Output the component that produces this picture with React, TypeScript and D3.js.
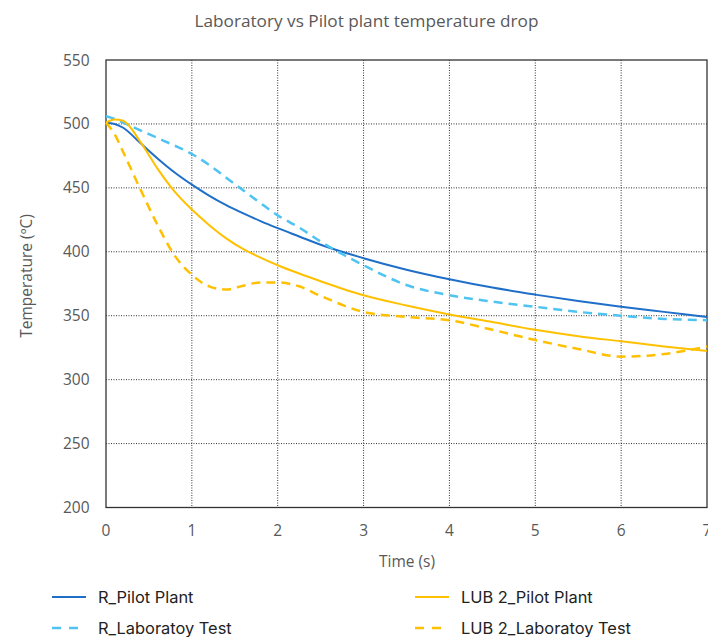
import React from "react";
import * as d3 from "d3";

const time = [0, 0.1, 0.2, 0.4, 0.6, 0.8, 1, 1.2, 1.4, 1.6, 1.8, 2, 2.25, 2.5, 3, 3.5, 4, 4.5, 5, 5.5, 6, 6.5, 7];
const rPilot = [501, 500, 497, 485, 473, 462, 452.5, 444, 436.5, 430, 424, 418.5, 412, 405.5, 395, 386, 378.5, 372, 366.5, 361.5, 357, 353, 349];
const rLab = [506, 504, 501, 495, 489, 483, 476.5, 468, 458, 448, 438, 428.5, 419, 408, 389.5, 374, 366, 361, 357, 353, 350, 347.5, 346.5];
const lubPilot = [501, 503.5, 502.5, 486, 465, 447, 433, 421, 410.5, 402, 395.5, 389.5, 383, 377, 366, 358, 351, 345, 339, 334, 330, 326, 322.5];
const lubLab = [501, 492, 478, 449, 421, 397, 382, 373, 370.5, 373.5, 376, 376, 373, 365.5, 353, 349, 346.5, 339, 331, 324, 318, 320, 326];

const xTicks = [0, 1, 2, 3, 4, 5, 6, 7];
const yTicks = [200, 250, 300, 350, 400, 450, 500, 550];

const seriesNames = ["R_Pilot Plant", "R_Laboratoy Test", "LUB 2_Pilot Plant", "LUB 2_Laboratoy Test"];
const seriesData = [rPilot, rLab, lubPilot, lubLab];
const seriesColors = ["#1F6FC9", "#4FC3F2", "#FFC000", "#FFC000"];
const seriesDashed = [false, true, false, true];

export default function App() {
  const W = 708, H = 637;
  const left = 106, right = 707, top = 60, bottom = 507.5;
  const x = d3.scaleLinear().domain([0, 7]).range([left, right]);
  const y = d3.scaleLinear().domain([200, 550]).range([bottom, top]);
  const line = (vals: number[]) =>
    d3.line<number>()
      .x((_, i) => x(time[i]))
      .y((v) => y(v))
      .curve(d3.curveMonotoneX)(vals) || "";

  const tickFont = "'Open Sans', 'Noto Sans', sans-serif";
  const grey = "#595959";

  const legendPos = [
    { lx: 52, ly: 597 },
    { lx: 52, ly: 628 },
    { lx: 415, ly: 597 },
    { lx: 415, ly: 628 },
  ];

  return (
    <svg width={W} height={H} style={{ position: "absolute", left: 0, top: 0, background: "#fff" }}>
      <rect x={0} y={0} width={W} height={H} fill="#fff" />
      <text x={366.5} y={27} textAnchor="middle" fontFamily={tickFont} fontSize={17.2} fill={grey}>
        Laboratory vs Pilot plant temperature drop
      </text>
      {/* gridlines */}
      {yTicks.filter((t) => t > 200 && t < 550).map((t) => (
        <line key={"gy" + t} x1={left} x2={right} y1={y(t)} y2={y(t)} stroke="#333" strokeWidth={1} strokeDasharray="1,1.5" />
      ))}
      {xTicks.filter((t) => t > 0 && t < 7).map((t) => (
        <line key={"gx" + t} x1={x(t)} x2={x(t)} y1={top} y2={bottom} stroke="#333" strokeWidth={1} strokeDasharray="1,1.5" />
      ))}
      {/* frame */}
      <rect x={left} y={top} width={right - left} height={bottom - top} fill="none" stroke="#333" strokeWidth={1.3} />
      {/* tick labels */}
      {yTicks.map((t) => (
        <text key={"yl" + t} x={89.5} y={y(t) + 5.5} textAnchor="end" fontFamily={tickFont} fontSize={15.5} fill={grey}>
          {t}
        </text>
      ))}
      {xTicks.map((t) => (
        <text key={"xl" + t} x={x(t)} y={536} textAnchor="middle" fontFamily={tickFont} fontSize={15.5} fill={grey}>
          {t}
        </text>
      ))}
      <text x={407} y={567} textAnchor="middle" fontFamily={tickFont} fontSize={15.5} fill={grey}>
        Time (s)
      </text>
      <text transform={`translate(32,276) rotate(-90)`} textAnchor="middle" fontFamily={tickFont} fontSize={15.5} fill={grey}>
        Temperature (ºC)
      </text>
      {/* series */}
      {seriesData.map((vals, i) => (
        <path
          key={"s" + i}
          d={line(vals)}
          fill="none"
          stroke={seriesColors[i]}
          strokeWidth={seriesDashed[i] ? 2.5 : 2}
          strokeDasharray={seriesDashed[i] ? "9,6" : undefined}
        />
      ))}
      {/* legend */}
      {seriesNames.map((n, i) => (
        <g key={"lg" + i}>
          <line
            x1={legendPos[i].lx}
            x2={legendPos[i].lx + 34}
            y1={legendPos[i].ly}
            y2={legendPos[i].ly}
            stroke={seriesColors[i]}
            strokeWidth={seriesDashed[i] ? 2.5 : 2}
            strokeDasharray={seriesDashed[i] ? "9,8" : undefined}
          />
          <text x={legendPos[i].lx + 46} y={legendPos[i].ly + 6} fontFamily="Inter, 'Noto Sans', sans-serif" fontSize={16.4} fill="#222">
            {n}
          </text>
        </g>
      ))}
    </svg>
  );
}
